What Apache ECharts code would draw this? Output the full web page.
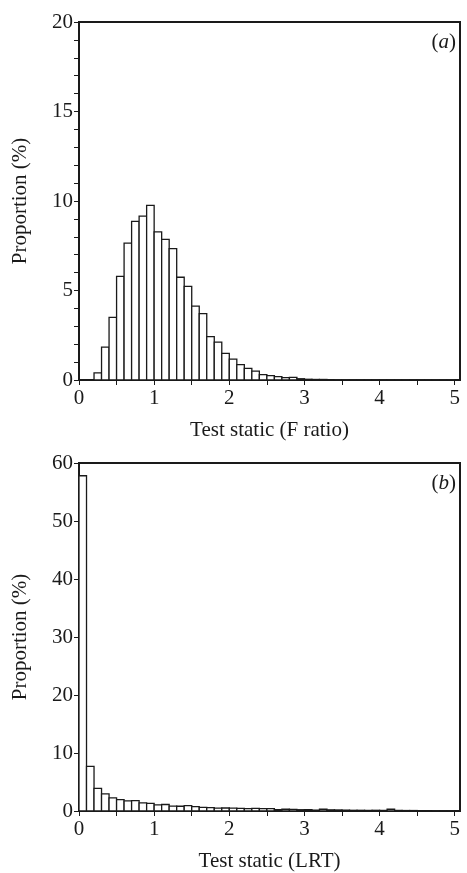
<!DOCTYPE html>
<html>
<head>
<meta charset="utf-8">
<script src="https://cdn.jsdelivr.net/npm/echarts@6/dist/echarts.min.js"></script>
<style>
  html, body { margin: 0; padding: 0; background: #fff; }
  #chart { width: 467px; height: 873px; }
</style>
</head>
<body>
<div id="chart"></div>
<script>
// ---- Data (proportions in %, bins of width 0.1 starting at 0) ----
const binWidth = 0.1;
// Panel (a): F ratio, bins 0.0-0.1 ... 4.9-5.0
const fRatioValues = [
  0, 0, 0.4, 1.84, 3.5, 5.79, 7.65, 8.86, 9.16, 9.76,
  8.27, 7.86, 7.34, 5.74, 5.23, 4.13, 3.71, 2.42, 2.12, 1.49,
  1.17, 0.86, 0.65, 0.5, 0.3, 0.24, 0.19, 0.13, 0.15, 0.07,
  0.04, 0.03, 0.03, 0.02, 0.01, 0.01, 0.01, 0.01, 0.01, 0.01,
  0.01, 0.01, 0.01, 0.01, 0.01, 0.01, 0.01, 0.01, 0.01, 0.01
];
// Panel (b): LRT, bins 0.0-0.1 ... 4.9-5.0
const lrtValues = [
  57.8, 7.7, 3.9, 2.95, 2.25, 1.95, 1.75, 1.8, 1.4, 1.3,
  1.05, 1.12, 0.85, 0.82, 0.92, 0.75, 0.62, 0.58, 0.48, 0.52,
  0.48, 0.45, 0.42, 0.45, 0.4, 0.42, 0.25, 0.3, 0.28, 0.22,
  0.25, 0.15, 0.3, 0.2, 0.18, 0.15, 0.12, 0.12, 0.1, 0.12,
  0.1, 0.3, 0.1, 0.08, 0.08, 0.06, 0.06, 0.05, 0.05, 0.05
];
const xTickLabels = ['0', '1', '2', '3', '4', '5'];
const yTicksA = { max: 20, interval: 5 };
const yTicksB = { max: 60, interval: 10 };
const xMax = 5.07;

const font = 'Liberation Serif';
const ink = '#1a1a1a';

function toBins(values) {
  return values.map((v, i) => [+(i * binWidth).toFixed(2), +((i + 1) * binWidth).toFixed(2), v]);
}

function renderBar(params, api) {
  const lo = api.value(0), hi = api.value(1), h = api.value(2);
  const pTop = api.coord([lo, h]);
  const pBot = api.coord([hi, 0]);
  return {
    type: 'rect',
    shape: { x: pTop[0], y: pTop[1], width: pBot[0] - pTop[0], height: pBot[1] - pTop[1] },
    style: { fill: '#fff', stroke: ink, lineWidth: 1.3 }
  };
}

function xAxisDef(gridIndex, name) {
  return {
    type: 'value', gridIndex, min: 0, max: xMax, interval: 0.5,
    name, nameLocation: 'middle', nameGap: 40,
    nameTextStyle: { fontFamily: font, fontSize: 21, color: ink },
    axisLine: { show: true, onZero: false, lineStyle: { color: ink, width: 2 } },
    axisTick: { show: true, inside: false, length: 5, lineStyle: { color: ink, width: 1 } },
    axisLabel: {
      fontFamily: font, fontSize: 21, color: ink, margin: 8,
      showMaxLabel: false,
      formatter: v => {
        const r = Math.round(v);
        return Math.abs(v - r) < 1e-6 && r >= 0 && r < xTickLabels.length ? xTickLabels[r] : '';
      }
    },
    splitLine: { show: false }
  };
}

function yAxisDef(gridIndex, ticks, minor) {
  return {
    type: 'value', gridIndex, min: 0, max: ticks.max, interval: ticks.interval,
    name: 'Proportion (%)', nameLocation: 'middle', nameGap: 48,
    nameTextStyle: { fontFamily: font, fontSize: 21, color: ink },
    axisLine: { show: true, lineStyle: { color: ink, width: 2 } },
    axisTick: { show: true, inside: false, length: 5, lineStyle: { color: ink, width: 1 } },
    minorTick: minor ? { show: true, splitNumber: 5, length: 5, lineStyle: { color: ink, width: 1 } } : { show: false },
    axisLabel: { fontFamily: font, fontSize: 21, color: ink, margin: 6 },
    splitLine: { show: false }
  };
}

const chart = echarts.init(document.getElementById('chart'), null, { renderer: 'canvas' });
chart.setOption({
  animation: false,
  backgroundColor: '#fff',
  grid: [
    { left: 79, right: 7, top: 22, height: 358, show: true, borderColor: ink, borderWidth: 2, backgroundColor: 'transparent' },
    { left: 79, right: 7, top: 463, height: 357, show: true, borderColor: ink, borderWidth: 2, backgroundColor: 'transparent' }
  ],
  xAxis: [xAxisDef(0, 'Test static (F ratio)'), xAxisDef(1, 'Test static (LRT)')],
  yAxis: [yAxisDef(0, yTicksA, true), yAxisDef(1, yTicksB, false)],
  series: [
    { type: 'custom', xAxisIndex: 0, yAxisIndex: 0, renderItem: renderBar, encode: { x: [0, 1], y: 2 }, data: toBins(fRatioValues) },
    { type: 'custom', xAxisIndex: 1, yAxisIndex: 1, renderItem: renderBar, encode: { x: [0, 1], y: 2 }, data: toBins(lrtValues) }
  ],
  graphic: [
    { type: 'text', right: 11, top: 32, style: { text: '({i|a})', rich: { i: { fontStyle: 'italic', fontFamily: font, fontSize: 21, fill: ink } }, font: '21px "Liberation Serif"', fill: ink } },
    { type: 'text', right: 11, top: 473, style: { text: '({i|b})', rich: { i: { fontStyle: 'italic', fontFamily: font, fontSize: 21, fill: ink } }, font: '21px "Liberation Serif"', fill: ink } }
  ]
});
</script>
</body>
</html>
